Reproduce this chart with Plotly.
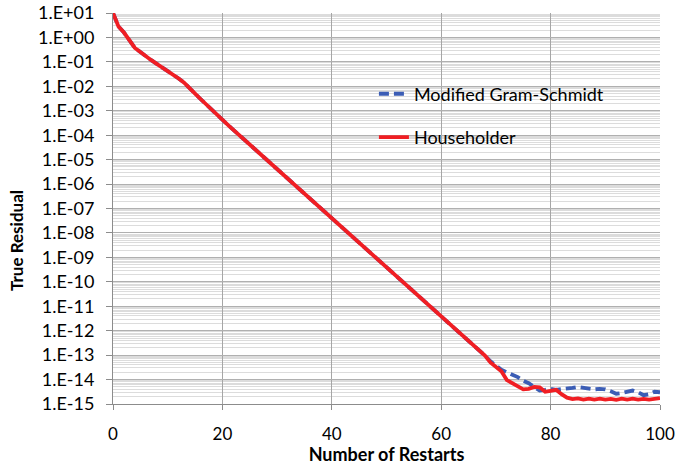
import plotly.graph_objects as go

# Restart index (x axis)
restarts = list(range(0, 101))

# log10 of the true residual after each restart
log_res_mgs = [
    1.00, 0.45, 0.20, -0.15, -0.43, -0.60, -0.78, -0.93, -1.08, -1.22,
    -1.38, -1.52, -1.68, -1.85, -2.05, -2.30, -2.52, -2.74, -2.95, -3.16,
    -3.38, -3.58, -3.78, -3.98, -4.18, -4.38, -4.58, -4.78, -4.98, -5.18,
    -5.39, -5.59, -5.79, -5.99, -6.19, -6.39, -6.59, -6.79, -6.99, -7.19,
    -7.40, -7.60, -7.80, -8.00, -8.20, -8.40, -8.60, -8.80, -9.00, -9.20,
    -9.40, -9.60, -9.80, -10.00, -10.20, -10.40, -10.60, -10.80, -11.00, -11.20,
    -11.40, -11.60, -11.80, -12.00, -12.20, -12.40, -12.60, -12.82, -13.02, -13.25,
    -13.42, -13.60, -13.70, -13.80, -13.90, -14.05, -14.15, -14.30, -14.45, -14.42,
    -14.38, -14.42, -14.40, -14.38, -14.34, -14.30, -14.33, -14.38, -14.40, -14.38,
    -14.40, -14.48, -14.58, -14.55, -14.48, -14.45, -14.52, -14.64, -14.60, -14.50,
    -14.52,
]

log_res_hh = [
    1.00, 0.45, 0.20, -0.15, -0.43, -0.60, -0.78, -0.93, -1.08, -1.22,
    -1.38, -1.52, -1.68, -1.85, -2.05, -2.30, -2.52, -2.74, -2.95, -3.16,
    -3.38, -3.58, -3.78, -3.98, -4.18, -4.38, -4.58, -4.78, -4.98, -5.18,
    -5.39, -5.59, -5.79, -5.99, -6.19, -6.39, -6.59, -6.79, -6.99, -7.19,
    -7.40, -7.60, -7.80, -8.00, -8.20, -8.40, -8.60, -8.80, -9.00, -9.20,
    -9.40, -9.60, -9.80, -10.00, -10.20, -10.40, -10.60, -10.80, -11.00, -11.20,
    -11.40, -11.60, -11.80, -12.00, -12.20, -12.40, -12.60, -12.82, -13.02, -13.30,
    -13.50, -13.66, -14.02, -14.15, -14.28, -14.40, -14.38, -14.30, -14.32, -14.50,
    -14.46, -14.42, -14.60, -14.74, -14.80, -14.77, -14.82, -14.78, -14.82, -14.78,
    -14.82, -14.79, -14.83, -14.78, -14.82, -14.78, -14.82, -14.79, -14.82, -14.78,
    -14.76,
]

# Decade tick labels on the residual axis
y_exponents = list(range(1, -16, -1))
y_ticktext = ["1.E+%02d" % e if e >= 0 else "1.E-%02d" % (-e) for e in y_exponents]
x_ticks = [0, 20, 40, 60, 80, 100]

FONT = "Lato, 'Open Sans', sans-serif"

res_mgs = [10 ** v for v in log_res_mgs]
res_hh = [10 ** v for v in log_res_hh]

fig = go.Figure()
fig.add_trace(go.Scatter(
    x=restarts, y=res_mgs, mode="lines", name="Modified Gram-Schmidt",
    legendgroup="mgs",
    line=dict(color="#3b5db5", width=3.8, dash="10px,5px"),
))
fig.add_trace(go.Scatter(
    x=restarts, y=res_hh, mode="lines", name="Householder",
    legendgroup="hh",
    line=dict(color="#f01e23", width=3.8),
))

# White panel behind the legend
fig.add_shape(type="rect", xref="paper", yref="paper",
              x0=0.442, x1=0.954, y0=0.634, y1=0.852,
              fillcolor="white", line=dict(width=0), layer="between")

# Vertical axis title
fig.add_annotation(text="<b>True Residual</b>", xref="paper", yref="paper",
                   x=-0.1755, y=0.417, xanchor="center", yanchor="middle",
                   textangle=-90, showarrow=False,
                   font=dict(family=FONT, size=17, color="black"))

fig.update_layout(
    width=679, height=465,
    margin=dict(l=113, r=19, t=13, b=61),
    paper_bgcolor="white", plot_bgcolor="white",
    font=dict(family=FONT, size=16, color="black"),
    showlegend=True,
    legend=dict(
        x=0.477, y=0.84, xanchor="left", yanchor="top",
        bgcolor="rgba(0,0,0,0)", borderwidth=0,
        traceorder="grouped", tracegroupgap=17,
        font=dict(family=FONT, size=18, color="black"),
        itemwidth=30,
    ),
    xaxis=dict(
        range=[0, 100], tickvals=x_ticks, automargin=False,
        showgrid=True, gridcolor="#a6a6a6", gridwidth=1,
        showline=True, linecolor="#8c8c8c", linewidth=1,
        ticks="outside", ticklen=5, tickcolor="#8c8c8c",
        tickfont=dict(family=FONT, size=17),
        ticklabelstandoff=10,
        zeroline=False,
        title=dict(text="<b>Number of Restarts</b>",
                   font=dict(family=FONT, size=18), standoff=2),
    ),
    yaxis=dict(
        type="log", range=[-15, 1], automargin=False,
        tickvals=[10 ** e for e in y_exponents], ticktext=y_ticktext,
        showgrid=True, gridcolor="#b0b0b0", gridwidth=1,
        showline=True, linecolor="#8c8c8c", linewidth=1,
        ticks="outside", ticklen=6, tickcolor="#8c8c8c",
        tickfont=dict(family=FONT, size=18),
        ticklabelstandoff=8,
        minor=dict(dtick="D1", showgrid=True, gridcolor="#dcdcdc",
                   gridwidth=1, ticks=""),
        zeroline=False,
    ),
)

fig.write_html("out.html")
